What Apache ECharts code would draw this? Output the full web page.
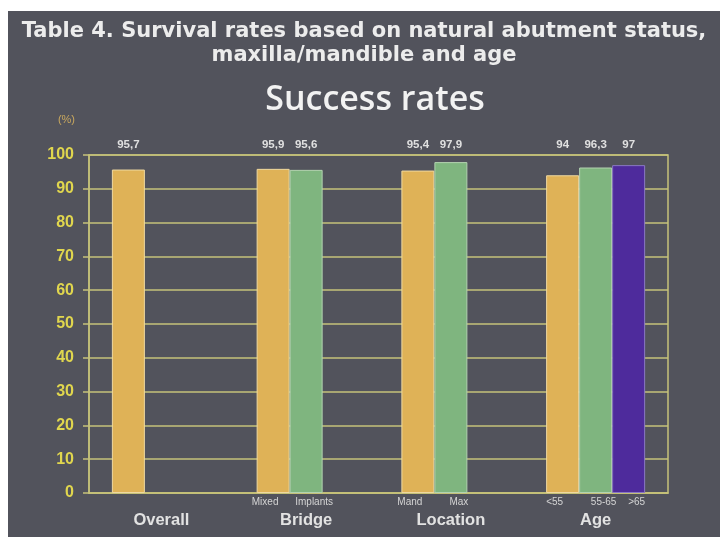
<!DOCTYPE html>
<html>
<head>
<meta charset="utf-8">
<script src="https://cdn.jsdelivr.net/npm/echarts@6/dist/echarts.min.js"></script>
<style>
  html, body { margin: 0; padding: 0; background: #ffffff; }
  #chart { position: absolute; left: 8px; top: 11px; width: 712px; height: 526px; }
</style>
</head>
<body>
<div id="chart"></div>
<script>
// ---- data ----
const categories = ['Overall', 'Bridge', 'Location', 'Age'];
const seriesNames = ['Group 1', 'Group 2', 'Group 3'];
const values1 = [95.7, 95.9, 95.4, 94];
const values2 = ['-', 95.6, 97.9, 96.3];
const values3 = ['-', '-', '-', 97];
const subLabels1 = ['', 'Mixed', 'Mand', '<55'];
const subLabels2 = ['', 'Implants', 'Max', '55-65'];
const subLabels3 = ['', '', '', '>65'];
const yTicks = [0, 10, 20, 30, 40, 50, 60, 70, 80, 90, 100];

const colors = ['#dfb257', '#7fb57f', '#4e2b9c'];
const BAR_W = 33;

const chart = echarts.init(document.getElementById('chart'));

function fmtVal(v) { return String(v).replace('.', ','); }

function valueLabel() {
  return {
    show: true,
    position: 'top',
    color: '#e0e0e0',
    fontSize: 11.5,
    fontWeight: 'bold',
    fontFamily: 'Liberation Sans',
    formatter: p => fmtVal(p.value)
  };
}

function labelLayout(params) {
  const y100 = chart.convertToPixel({ yAxisIndex: 0 }, yTicks[yTicks.length - 1]);
  return {
    x: params.rect.x + params.rect.width / 2,
    y: y100 - 4,
    align: 'center',
    verticalAlign: 'bottom'
  };
}

function tok(style, t) { return '{' + style + '|' + (t === '' ? ' ' : t) + '}'; }

const subStyle = { width: BAR_W, align: 'center', color: '#d4d4d4', fontSize: 10, fontFamily: 'Liberation Sans', lineHeight: 14 };

const option = {
  backgroundColor: '#52535c',
  animation: false,
  title: [
    {
      text: 'Table 4. Survival rates based on natural abutment status,\nmaxilla/mandible and age',
      left: 'center',
      top: 4,
      textStyle: { color: '#ececec', fontSize: 21, fontWeight: 'bold', fontFamily: 'DejaVu Sans', lineHeight: 24 }
    },
    {
      text: 'Success rates',
      left: 362,
      top: 67,
      textAlign: 'center',
      textStyle: { color: '#f2f2f2', fontSize: 34, fontWeight: 600, fontFamily: 'Open Sans' }
    }
  ],
  grid: {
    left: 81, right: 52, top: 144, bottom: 44,
    show: true, borderColor: '#c6c27a', borderWidth: 1.5, backgroundColor: 'transparent'
  },
  xAxis: {
    type: 'category',
    data: categories,
    axisLine: { show: true, lineStyle: { color: '#c6c27a', width: 1.5 } },
    axisTick: { show: false },
    axisLabel: {
      margin: 2,
      interval: 0,
      formatter: (v, i) => tok('a', subLabels1[i]) + tok('s', subLabels2[i]) + tok('s', subLabels3[i]) + '\n{c|' + v + '}',
      rich: {
        a: Object.assign({}, subStyle, { padding: [0, 16, 0, 0] }),
        s: subStyle,
        c: { align: 'center', color: '#e2e2e2', fontSize: 16.5, fontWeight: 'bold', fontFamily: 'Liberation Sans', lineHeight: 22 }
      }
    }
  },
  yAxis: {
    type: 'value',
    min: 0, max: 100, interval: 10,
    name: '(%)',
    nameLocation: 'end',
    nameGap: 30,
    nameTextStyle: { color: '#c9a85e', fontSize: 11, fontFamily: 'Liberation Sans', align: 'right', padding: [0, 14, 0, 0] },
    axisLine: { show: true, lineStyle: { color: '#c6c27a', width: 1.5 } },
    axisTick: { show: true, inside: false, length: 6, lineStyle: { color: '#c6c27a', width: 1.5 } },
    axisLabel: { color: '#e0d64e', fontSize: 16, fontWeight: 'bold', fontFamily: 'Liberation Sans', margin: 15 },
    splitLine: { show: true, lineStyle: { color: '#c6c27a', width: 1.5 } }
  },
  series: [
    { name: seriesNames[0], type: 'bar', data: values1, barWidth: BAR_W, barGap: '0%',
      itemStyle: { color: colors[0], borderColor: '#efd9a0', borderWidth: 1 },
      label: valueLabel(), labelLayout: labelLayout },
    { name: seriesNames[1], type: 'bar', data: values2, barWidth: BAR_W, barGap: '0%',
      itemStyle: { color: colors[1], borderColor: '#b3d3b0', borderWidth: 1 },
      label: valueLabel(), labelLayout: labelLayout },
    { name: seriesNames[2], type: 'bar', data: values3, barWidth: BAR_W, barGap: '0%',
      itemStyle: { color: colors[2], borderColor: '#8a78c4', borderWidth: 1 },
      label: valueLabel(), labelLayout: labelLayout }
  ]
};

chart.setOption(option);
</script>
</body>
</html>
